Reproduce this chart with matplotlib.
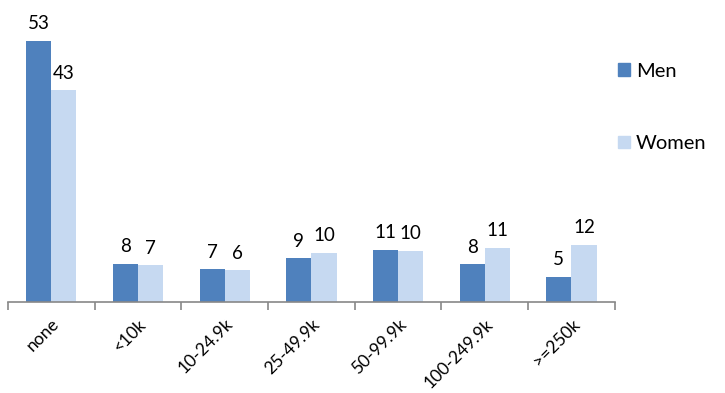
import matplotlib
matplotlib.use("Agg")
import matplotlib.pyplot as plt
from matplotlib.patches import Patch
import numpy as np

categories = ["none", "<10k", "10-24.9k", "25-49.9k", "50-99.9k", "100-249.9k", ">=250k"]
men = [53, 7.8, 6.6, 8.9, 10.6, 7.6, 5.1]
women = [43, 7.4, 6.4, 10.0, 10.4, 11.0, 11.6]

MEN_C = "#4F81BD"
WOMEN_C = "#C6D9F1"
FONT = ["Lato", "DejaVu Sans"]
plt.rcParams["font.family"] = FONT

fig = plt.figure(figsize=(7.25, 3.93), dpi=100)
ax = fig.add_axes([0.011, 0.2316, 0.837, 0.753])

x = np.arange(len(categories))
w = 0.29
b1 = ax.bar(x - w / 2, men, w, color=MEN_C, label="Men")
b2 = ax.bar(x + w / 2, women, w, color=WOMEN_C, label="Women")

for bars, vals in ((b1, men), (b2, women)):
    for r, v in zip(bars, vals):
        ax.annotate(f"{v:.0f}", (r.get_x() + r.get_width() / 2, r.get_height()),
                    xytext=(0, 6), textcoords="offset points",
                    ha="center", va="bottom", fontsize=13.5, color="black")

ax.set_xlim(-0.5, len(categories) - 0.5)
ax.set_ylim(0, 60)
for s in ("top", "right", "left"):
    ax.spines[s].set_visible(False)
ax.spines["bottom"].set_color("#888888")
ax.spines["bottom"].set_linewidth(1.2)
ax.set_yticks([])
ax.set_xticks(x)
ax.set_xticklabels(categories, rotation=45, ha="right", va="top",
                   rotation_mode="anchor", fontsize=12.5)
ax.tick_params(axis="x", which="major", length=0, pad=10)
ax.set_xticks(np.arange(-0.5, len(categories)), minor=True)
ax.tick_params(axis="x", which="minor", length=6, width=1.2, color="#888888")

handles = [Patch(color=MEN_C, label="Men"), Patch(color=WOMEN_C, label="Women")]
fig.legend(handles=handles, loc="center left", bbox_to_anchor=(0.852, 0.7265),
           frameon=False, fontsize=14.5, labelspacing=2.75, handlelength=0.6,
           handleheight=0.6, handletextpad=0.3, borderpad=0, borderaxespad=0)

fig.savefig("out.png", dpi=100)
